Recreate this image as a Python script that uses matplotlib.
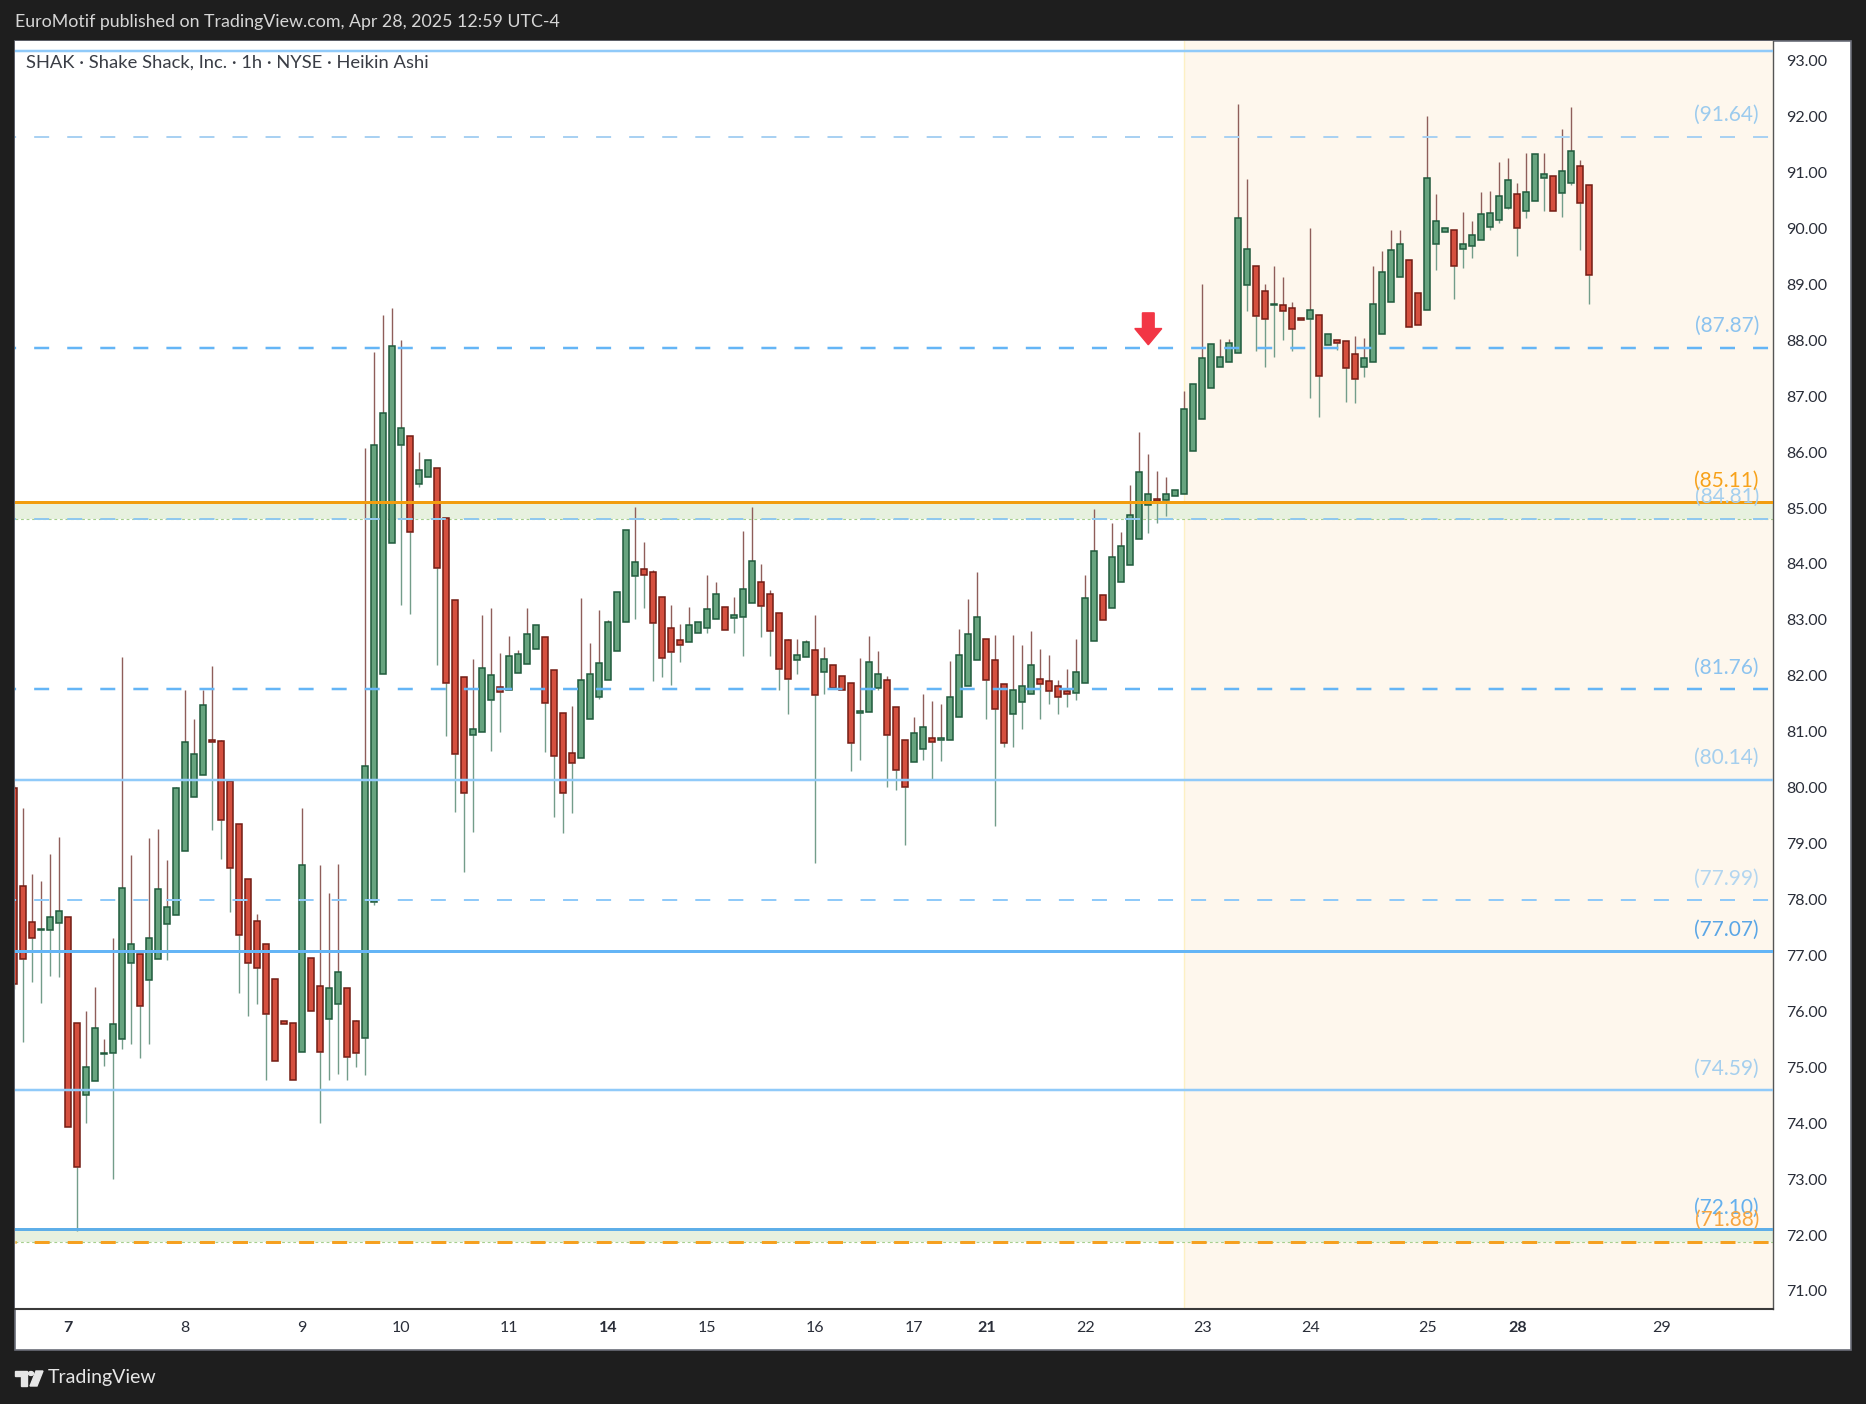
import matplotlib
matplotlib.use('Agg')
import matplotlib.pyplot as plt
from matplotlib.patches import Rectangle, FancyArrow, Polygon, Circle
import numpy as np

plt.rcParams['font.family'] = ['Lato', 'DejaVu Sans']
plt.rcParams['lines.scale_dashes'] = False

# Heikin Ashi candles, SHAK 1h (bar index = position on the chart)
ha_open = [80.00, 78.24, 77.59, 77.45, 77.45, 77.58, 77.68, 75.80, 74.51, 74.75,
           75.23, 75.25, 75.51, 76.86, 77.02, 76.56, 76.93, 77.56, 77.72, 78.86,
           79.83, 80.22, 80.85, 80.83, 80.12, 79.35, 78.36, 77.61, 77.20, 76.57,
           75.83, 75.80, 75.28, 76.95, 76.46, 75.87, 76.14, 76.42, 75.82, 75.53,
           77.96, 82.03, 84.37, 86.12, 86.29, 85.43, 85.56, 85.71, 84.82, 83.35,
           81.97, 80.94, 80.99, 81.56, 81.80, 81.75, 82.05, 82.21, 82.48, 82.69,
           82.10, 81.33, 80.62, 80.53, 81.23, 81.62, 81.93, 82.44, 82.96, 83.78,
           83.91, 83.86, 83.41, 82.85, 82.64, 82.61, 82.77, 82.86, 83.02, 83.23,
           83.04, 83.06, 83.31, 83.67, 83.46, 83.13, 82.64, 82.28, 82.33, 82.47,
           82.06, 82.19, 81.99, 81.87, 81.34, 81.35, 81.79, 81.92, 81.44, 80.86,
           80.45, 80.70, 80.88, 80.85, 80.86, 81.26, 81.81, 82.28, 82.65, 82.28,
           81.85, 81.31, 81.53, 81.67, 81.94, 81.90, 81.81, 81.72, 81.69, 81.88,
           82.63, 83.44, 83.22, 83.67, 83.99, 84.44, 85.05, 85.16, 85.14, 85.21,
           85.26, 86.02, 86.60, 87.14, 87.53, 87.62, 87.78, 88.98, 89.32, 88.88,
           88.63, 88.63, 88.57, 88.39, 88.38, 88.45, 87.91, 88.00, 87.98, 87.75,
           87.52, 87.61, 88.12, 88.68, 89.14, 89.43, 88.84, 88.55, 89.73, 89.93,
           89.97, 89.64, 89.68, 89.79, 90.02, 90.15, 90.36, 90.61, 90.31, 90.49,
           90.91, 90.93, 90.63, 90.82, 91.11, 90.77]
ha_high = [80.05, 79.64, 78.46, 78.33, 78.82, 79.12, 77.68, 75.80, 76.01, 76.43,
           75.50, 77.31, 82.34, 78.79, 77.02, 79.10, 79.26, 78.71, 80.01, 81.75,
           81.23, 81.74, 82.18, 80.85, 80.12, 79.35, 78.36, 77.74, 77.20, 76.57,
           75.83, 75.80, 79.64, 76.95, 78.61, 78.12, 78.63, 76.42, 75.85, 86.08,
           87.79, 88.45, 88.57, 88.01, 86.29, 86.01, 85.86, 85.71, 84.82, 83.35,
           81.97, 82.30, 83.08, 83.21, 82.41, 82.71, 82.46, 83.21, 82.91, 82.69,
           82.10, 81.33, 81.46, 83.40, 82.59, 83.18, 83.00, 83.50, 84.60, 85.01,
           84.40, 83.90, 83.41, 83.26, 82.93, 83.23, 82.96, 83.81, 83.67, 83.23,
           83.41, 84.59, 85.02, 84.00, 83.54, 83.13, 82.66, 82.66, 82.64, 83.09,
           82.52, 82.19, 81.99, 81.87, 82.32, 82.71, 82.44, 82.00, 81.44, 80.86,
           81.26, 81.68, 81.55, 81.50, 82.27, 82.84, 83.37, 83.86, 82.65, 82.73,
           81.85, 82.73, 82.55, 82.80, 82.48, 82.37, 81.93, 82.12, 82.66, 83.80,
           84.99, 83.44, 84.73, 84.57, 85.42, 86.36, 85.96, 85.66, 85.55, 85.32,
           87.09, 87.21, 89.00, 87.93, 88.02, 88.02, 92.23, 90.89, 89.32, 89.00,
           89.33, 89.13, 88.69, 88.39, 90.01, 88.45, 88.11, 88.00, 87.98, 88.08,
           88.04, 89.33, 89.60, 89.97, 89.97, 89.43, 88.84, 92.01, 90.62, 90.00,
           89.97, 90.30, 90.13, 90.65, 90.67, 91.19, 91.26, 90.81, 91.35, 91.33,
           91.35, 90.93, 91.78, 92.17, 91.22, 90.77]
ha_low = [76.40, 75.45, 76.52, 76.15, 76.63, 76.61, 73.93, 72.08, 74.00, 74.75,
          75.03, 73.01, 75.33, 75.42, 75.17, 75.41, 76.93, 76.91, 77.72, 78.86,
          79.83, 80.22, 79.25, 78.72, 77.77, 76.32, 75.91, 76.13, 74.77, 75.11,
          75.77, 74.77, 75.28, 76.00, 74.00, 74.77, 74.88, 74.77, 75.01, 74.87,
          77.90, 82.03, 84.37, 83.26, 83.10, 85.37, 85.56, 82.20, 80.93, 79.57,
          78.50, 79.20, 80.99, 80.65, 81.00, 81.75, 82.05, 82.21, 82.48, 80.63,
          79.47, 79.19, 79.54, 80.53, 81.23, 81.58, 81.93, 82.44, 82.96, 83.01,
          83.21, 81.90, 81.97, 81.83, 82.24, 82.61, 82.77, 82.76, 83.02, 82.82,
          82.76, 82.35, 83.31, 82.70, 82.36, 81.75, 81.31, 82.04, 82.33, 78.66,
          81.68, 81.79, 81.74, 80.30, 80.50, 81.35, 81.75, 80.02, 79.96, 78.98,
          80.45, 80.50, 80.14, 80.48, 80.86, 81.26, 81.81, 82.28, 81.23, 79.32,
          80.73, 80.73, 81.04, 81.67, 81.23, 81.50, 81.32, 81.45, 81.56, 81.88,
          82.63, 82.99, 83.22, 83.67, 83.99, 84.44, 84.56, 84.73, 84.86, 85.21,
          85.26, 86.02, 86.60, 87.14, 87.53, 87.62, 87.78, 88.53, 87.81, 87.53,
          87.71, 88.01, 87.81, 88.36, 86.97, 86.63, 87.91, 87.82, 86.90, 86.87,
          87.35, 87.61, 88.12, 88.68, 89.14, 88.23, 88.27, 88.55, 89.25, 89.93,
          88.74, 89.30, 89.48, 89.79, 89.97, 90.09, 90.34, 89.51, 90.18, 90.49,
          90.32, 90.31, 90.20, 90.77, 89.62, 88.64]
ha_close = [76.49, 76.93, 77.32, 77.46, 77.68, 77.80, 73.93, 73.21, 75.00, 75.71,
            75.26, 75.78, 78.20, 77.20, 76.09, 77.32, 78.18, 77.86, 79.99, 80.81,
            80.60, 81.48, 80.81, 79.42, 78.56, 77.36, 76.86, 76.78, 75.95, 75.11,
            75.77, 74.77, 78.61, 76.00, 75.28, 76.41, 76.71, 75.19, 75.25, 80.38,
            86.12, 86.70, 87.90, 86.43, 84.57, 85.68, 85.86, 83.93, 81.87, 80.60,
            79.90, 81.04, 82.14, 82.01, 81.71, 82.35, 82.39, 82.75, 82.91, 81.52,
            80.56, 79.90, 80.44, 81.92, 82.03, 82.23, 82.96, 83.50, 84.60, 84.04,
            83.80, 82.94, 82.32, 82.43, 82.55, 82.91, 82.96, 83.19, 83.46, 82.82,
            83.08, 83.56, 84.05, 83.24, 82.80, 82.12, 81.94, 82.38, 82.60, 81.65,
            82.30, 81.79, 81.74, 80.79, 81.37, 82.24, 82.03, 80.95, 80.31, 80.02,
            80.97, 81.08, 80.81, 80.88, 81.63, 82.37, 82.74, 83.05, 81.93, 81.40,
            80.79, 81.74, 81.81, 82.20, 81.85, 81.72, 81.63, 81.67, 82.06, 83.39,
            84.24, 82.99, 84.12, 84.33, 84.87, 85.64, 85.26, 85.12, 85.26, 85.32,
            86.77, 87.21, 87.68, 87.93, 87.71, 87.95, 90.18, 89.64, 88.43, 88.38,
            88.64, 88.52, 88.20, 88.36, 88.54, 87.36, 88.11, 87.95, 87.50, 87.30,
            87.68, 88.64, 89.23, 89.61, 89.73, 88.23, 88.27, 90.90, 90.13, 90.00,
            89.32, 89.72, 89.88, 90.25, 90.27, 90.58, 90.86, 90.00, 90.66, 91.33,
            90.97, 90.31, 91.02, 91.38, 90.45, 89.16]

# date axis: label and the bar it sits on
day_labels = ['7', '8', '9', '10', '11', '14', '15', '16', '17', '21', '22',
              '23', '24', '25', '28', '29']
day_bars = [6, 19, 32, 43, 55, 66, 77, 89, 100, 108, 119, 132, 144, 157, 167, 183]
week_start = ['7', '14', '21', '28']

# horizontal levels drawn on the chart
levels = [93.17, 91.64, 87.87, 85.11, 84.81, 81.76, 80.14, 77.99, 77.07, 74.59, 72.10, 71.88]
zones = [(84.81, 85.11), (71.88, 72.10)]
arrow_bar, arrow_price = 126, 88.49

# styles, one per level
lv_color = ['#90caf9', '#a9d1f2', '#64b5f6', '#f29d0f', '#90c8ee', '#64b5f6',
            '#90caf9', '#90caf9', '#64b5f6', '#90caf9', '#5eaee8', '#f5a020']
lv_dashed = [False, True, True, False, True, True, False, True, False, False, False, True]
lv_width = [2.5, 2.0, 2.5, 3.0, 2.0, 2.5, 2.5, 2.0, 3.0, 2.5, 3.0, 3.0]
lv_textcolor = [None, '#9ccbee', '#8cc3ef', '#f7a21b', '#a5cfee', '#8cc3ef',
                '#a5cfee', '#b3d6f0', '#5aa6e6', '#a5cfee', '#64b0ee', '#f7a540']

W, H = 1866, 1404
fig = plt.figure(figsize=(W / 100, H / 100), dpi=100)
fig.patch.set_facecolor('#1e1e1e')


def fbox(x0, y0, x1, y1):
    # pixel box (top-left origin) -> figure fraction rect
    return [x0 / W, 1 - y1 / H, (x1 - x0) / W, (y1 - y0) / H]


# white chart panel, behind the axes
px0, py0, px1, py1 = fbox(15, 41, 1851, 1350)
panel = Rectangle((px0, py0), px1, py1, transform=fig.transFigure,
                  facecolor='white', edgecolor='#6a6d78', linewidth=1.2, zorder=-5)
fig.add_artist(panel)

ax = fig.add_axes(fbox(15, 41, 1773, 1309))
ax.set_facecolor('white')
ax.set_zorder(1)

o = np.array(ha_open)
h = np.array(ha_high)
l = np.array(ha_low)
c = np.array(ha_close)
x = np.arange(len(o))
up = c >= o
top = np.maximum(o, c)
bot = np.minimum(o, c)
height = np.maximum(top - bot, 0.015)

# session shading and zones
ax.axvspan(129.95, 200, color='#fef7ed', zorder=0, lw=0)
ax.axvline(129.95, color='#fdf0c4', lw=1, zorder=0)
for z0, z1 in zones:
    ax.axhspan(z0, z1, color='#e7f1df', zorder=1, lw=0)
for lv in (84.81, 71.88):
    ax.axhline(lv, color='#a5cf8e', lw=0.8, linestyle=(0, (2, 2)), zorder=1.5)

# wicks
ax.vlines(x, top, h, color='#8f5e5a', lw=1.0, zorder=2)
ax.vlines(x, l, bot, color='#739d8a', lw=1.0, zorder=2)
# bodies
ax.bar(x[up], height[up], bottom=bot[up], width=0.66, color='#67a47f',
       edgecolor='#1f5a3c', linewidth=1.1, zorder=3)
ax.bar(x[~up], height[~up], bottom=bot[~up], width=0.66, color='#d5503f',
       edgecolor='#731c14', linewidth=1.1, zorder=3)

# levels
ytr = ax.get_yaxis_transform()
for lv, col, dsh, lw in zip(levels, lv_color, lv_dashed, lv_width):
    ls = (10, (10.8, 13)) if dsh else '-'
    ax.axhline(lv, color=col, lw=lw * 0.72, linestyle=ls, zorder=4)

# labels drawn back to front so the orange ones stay on top
order = [1, 2, 4, 5, 6, 7, 8, 9, 10, 11, 3]
for i in order:
    ax.annotate('(%.2f)' % levels[i], xy=(0.992, levels[i]), xycoords=ytr,
                xytext=(0, 15.5), textcoords='offset points', ha='right', va='center',
                fontsize=15, color=lv_textcolor[i], zorder=5)

# signal arrow
ax.add_patch(FancyArrow(arrow_bar, arrow_price, 0, -0.57, width=1.3, head_width=3.0,
                        head_length=0.29, length_includes_head=True,
                        color='#f23645', zorder=6))

ax.set_xlim(0.08, 195.41)
ax.set_ylim(70.677, 93.352)

# axes styling
for s in ('top', 'left'):
    ax.spines[s].set_visible(False)
ax.spines['right'].set_color('#555555')
ax.spines['right'].set_linewidth(1)
ax.spines['bottom'].set_color('#3a3a3a')
ax.spines['bottom'].set_linewidth(1.5)

ax.yaxis.tick_right()
yt = np.arange(71, 94)
ax.set_yticks(yt)
ax.set_yticklabels(['%.2f' % v for v in yt])
ax.tick_params(axis='y', length=0, pad=9.5, labelsize=11.5, labelcolor='#2a2e39')

ax.set_xticks(day_bars)
ax.set_xticklabels(day_labels)
ax.tick_params(axis='x', length=0, pad=9, labelsize=11.5, labelcolor='#2a2e39')
for t in ax.get_xticklabels():
    if t.get_text() in week_start:
        t.set_fontweight('bold')

# texts
fig.text(15 / W, 1 - 21.5 / H, 'EuroMotif published on TradingView.com, Apr 28, 2025 12:59 UTC-4',
         color='#d6d6d6', fontsize=12.8, va='center', ha='left')
fig.text(26 / W, 1 - 63 / H, 'SHAK · Shake Shack, Inc. · 1h · NYSE · Heikin Ashi',
         color='#3a3d45', fontsize=13.2, va='center', ha='left', zorder=10)


# TradingView logo + name at the bottom
def pts(seq):
    return [(a / W, 1 - b / H) for a, b in seq]


logo = '#e6e6e6'
fig.add_artist(Polygon(pts([(15, 1371), (27, 1371), (27, 1386), (21, 1386), (21, 1376), (15, 1376)]),
                       closed=True, transform=fig.transFigure, color=logo))
fig.add_artist(Circle((31 / W, 1 - 1373.5 / H), 2.6 / W, transform=fig.transFigure, color=logo))
fig.add_artist(Polygon(pts([(36, 1371), (43, 1371), (37, 1386), (30, 1386)]),
                       closed=True, transform=fig.transFigure, color=logo))
fig.text(48 / W, 1 - 1378 / H, 'TradingView', color=logo, fontsize=14, va='center', ha='left')

fig.savefig('out.png', dpi=100, facecolor=fig.get_facecolor())
